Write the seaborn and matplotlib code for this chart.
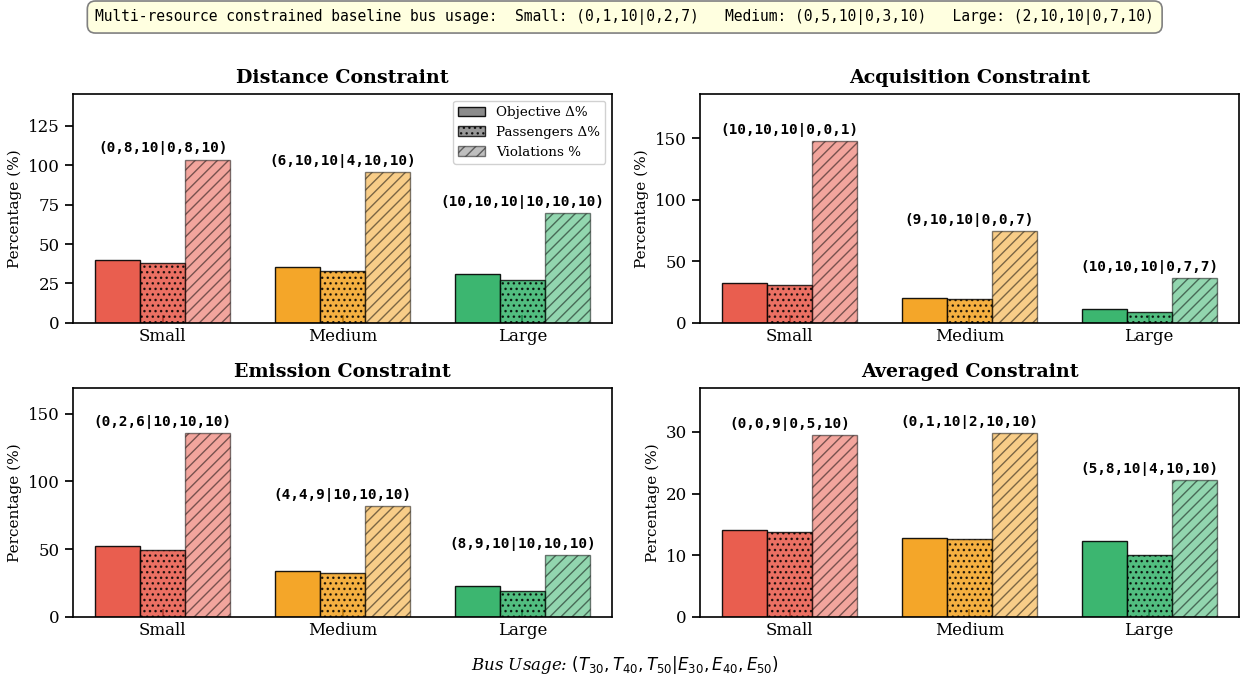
import matplotlib
matplotlib.use("Agg")
import matplotlib.pyplot as plt
import seaborn as sns
import pandas as pd
from matplotlib.patches import Patch
from matplotlib.ticker import MultipleLocator

# ---- data ----
sizes = ["Small", "Medium", "Large"]
metrics = ["Objective Δ%", "Passengers Δ%", "Violations %"]
panel_titles = ["Distance Constraint", "Acquisition Constraint",
                "Emission Constraint", "Averaged Constraint"]

distance_obj = [39.8, 35.4, 30.9]
distance_pass = [37.9, 32.8, 27.1]
distance_viol = [103.5, 95.3, 69.4]

acquisition_obj = [32.4, 20.0, 11.4]
acquisition_pass = [30.6, 19.5, 8.9]
acquisition_viol = [148.0, 74.5, 36.5]

emission_obj = [52.4, 34.0, 23.0]
emission_pass = [49.5, 32.5, 19.2]
emission_viol = [136.0, 82.0, 45.8]

averaged_obj = [14.1, 12.8, 12.3]
averaged_pass = [13.8, 12.6, 10.0]
averaged_viol = [29.5, 29.8, 22.2]

distance_usage = ["(0,8,10|0,8,10)", "(6,10,10|4,10,10)", "(10,10,10|10,10,10)"]
acquisition_usage = ["(10,10,10|0,0,1)", "(9,10,10|0,0,7)", "(10,10,10|0,7,7)"]
emission_usage = ["(0,2,6|10,10,10)", "(4,4,9|10,10,10)", "(8,9,10|10,10,10)"]
averaged_usage = ["(0,0,9|0,5,10)", "(0,1,10|2,10,10)", "(5,8,10|4,10,10)"]

panel_values = [
    (distance_obj, distance_pass, distance_viol),
    (acquisition_obj, acquisition_pass, acquisition_viol),
    (emission_obj, emission_pass, emission_viol),
    (averaged_obj, averaged_pass, averaged_viol),
]
panel_usage = [distance_usage, acquisition_usage, emission_usage, averaged_usage]
panel_ylim = [145, 186, 169, 37.1]
panel_ystep = [25, 50, 50, 10]

baseline_text = ("Multi-resource constrained baseline bus usage:  "
                 "Small: (0,1,10|0,2,7)   Medium: (0,5,10|0,3,10)   "
                 "Large: (2,10,10|0,7,10)")

# ---- styling ----
size_colors = {"Small": "#e74c3c", "Medium": "#f39c12", "Large": "#27ae60"}
metric_alpha = [0.9, 0.8, 0.5]
metric_hatch = [None, "...", "///"]

sns.set_theme(style="ticks")
plt.rcParams["font.family"] = "DejaVu Serif"
plt.rcParams["mathtext.fontset"] = "dejavusans"
plt.rcParams["hatch.linewidth"] = 1.0
for key in ["text.color", "axes.labelcolor", "xtick.color", "ytick.color"]:
    plt.rcParams[key] = "black"

fig, axes = plt.subplots(2, 2, figsize=(12.42, 6.81), dpi=100)
fig.subplots_adjust(left=0.0588, right=0.9976, top=0.862, bottom=0.094,
                    wspace=0.163, hspace=0.284)

for ax, title, vals, usage, ymax, ystep in zip(axes.flat, panel_titles, panel_values,
                                               panel_usage, panel_ylim, panel_ystep):
    rows = []
    for m, series in zip(metrics, vals):
        for s, v in zip(sizes, series):
            rows.append({"size": s, "metric": m, "value": v})
    df = pd.DataFrame(rows)
    sns.barplot(data=df, x="size", y="value", hue="metric", order=sizes,
                hue_order=metrics, width=0.75, errorbar=None, legend=False, ax=ax)

    for k, cont in enumerate(ax.containers):
        for s, bar in zip(sizes, cont):
            bar.set_facecolor(size_colors[s])
            bar.set_edgecolor("black")
            bar.set_linewidth(1.0)
            bar.set_alpha(metric_alpha[k])
            if metric_hatch[k]:
                bar.set_hatch(metric_hatch[k])

    for i, lab in enumerate(usage):
        top = max(v[i] for v in vals)
        ax.annotate(lab, (i, top), xytext=(0, 3), textcoords="offset points",
                    ha="center", va="bottom", fontsize=10.4, fontweight="bold",
                    family="DejaVu Sans Mono")

    ax.set_ylim(0, ymax)
    ax.yaxis.set_major_locator(MultipleLocator(ystep))
    ax.set_title(title, fontsize=13.7, fontweight="bold", pad=8)
    ax.set_xlabel("")
    ax.set_ylabel("Percentage (%)", fontsize=11)
    ax.tick_params(axis="x", direction="in", labelsize=12)
    ax.tick_params(axis="y", direction="out", labelsize=12)
    for sp in ax.spines.values():
        sp.set_visible(True)
        sp.set_color("black")
        sp.set_linewidth(1.2)

handles = [Patch(facecolor="gray", edgecolor="black", alpha=metric_alpha[k],
                 hatch=metric_hatch[k], label=metrics[k]) for k in range(3)]
axes[0, 0].legend(handles=handles, loc="upper right", fontsize=9.7,
                  frameon=True, framealpha=0.9)

fig.text(0.503, 0.975, baseline_text, ha="center", va="center",
         fontsize=10.5, family="DejaVu Sans Mono",
         bbox=dict(boxstyle="round,pad=0.55", facecolor="lightyellow",
                   edgecolor="gray", linewidth=1.2))

fig.text(0.503, 0.023,
         "Bus Usage: $(T_{30}, T_{40}, T_{50} | E_{30}, E_{40}, E_{50})$",
         ha="center", va="center", fontsize=12, style="italic")

plt.savefig("out.png", dpi=100)
